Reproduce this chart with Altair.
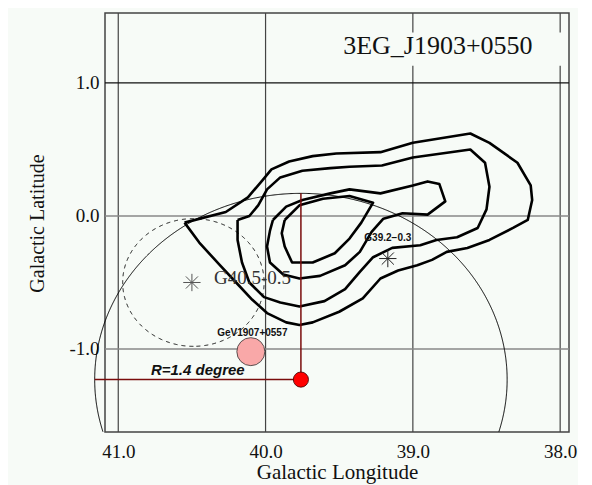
import altair as alt
import numpy as np
import pandas as pd

# ---------------- data ----------------
x_ticks = [41.0, 40.0, 39.0, 38.0]
y_ticks = [1.0, 0.0, -1.0]
x_domain = [37.94, 41.09]
y_domain = [-1.624, 1.526]

# EGRET significance contours (galactic lon, lat)
c1_lon = [40.55, 40.27, 40.12, 40.02, 39.96, 39.84, 39.68, 39.52, 39.22, 39.00, 38.61, 38.48,
          38.29, 38.20, 38.19, 38.22, 38.32, 38.48, 38.63, 38.77, 38.87, 38.97, 39.10, 39.22,
          39.34, 39.50, 39.68, 39.77, 39.86, 39.99, 40.09, 40.20, 40.31, 40.45, 40.55]
c1_lat = [-0.05, 0.03, 0.14, 0.27, 0.35, 0.41, 0.45, 0.47, 0.48, 0.55, 0.62, 0.55,
          0.40, 0.23, 0.12, -0.03, -0.09, -0.18, -0.24, -0.27, -0.33, -0.37, -0.41, -0.47,
          -0.62, -0.72, -0.80, -0.82, -0.80, -0.73, -0.63, -0.50, -0.37, -0.20, -0.05]

c2_lon = [40.19, 40.11, 40.05, 39.99, 39.90, 39.75, 39.56, 39.43, 39.21, 39.00, 38.61, 38.51,
          38.48, 38.50, 38.56, 38.70, 38.84, 38.95, 39.14, 39.27, 39.36, 39.46, 39.60, 39.77,
          39.90, 40.01, 40.11, 40.16, 40.19, 40.19]
c2_lat = [-0.03, 0.00, 0.08, 0.20, 0.29, 0.34, 0.36, 0.37, 0.38, 0.44, 0.50, 0.40,
          0.22, 0.05, -0.09, -0.16, -0.18, -0.22, -0.24, -0.31, -0.42, -0.55, -0.64, -0.68,
          -0.65, -0.61, -0.50, -0.35, -0.18, -0.03]

c3_lon = [39.95, 39.86, 39.75, 39.56, 39.43, 39.22, 39.00, 38.90, 38.82, 38.78, 38.90, 39.07,
          39.20, 39.28, 39.36, 39.46, 39.63, 39.77, 39.88, 39.97, 39.99, 39.97, 39.95]
c3_lat = [-0.03, 0.07, 0.12, 0.17, 0.20, 0.17, 0.23, 0.26, 0.24, 0.11, 0.01, 0.02,
          -0.02, -0.12, -0.27, -0.37, -0.45, -0.47, -0.44, -0.35, -0.23, -0.11, -0.03]

c4_lon = [39.87, 39.77, 39.61, 39.43, 39.27, 39.35, 39.43, 39.53, 39.68, 39.82, 39.87, 39.89, 39.87]
c4_lat = [-0.03, 0.08, 0.13, 0.15, 0.10, -0.05, -0.17, -0.28, -0.35, -0.35, -0.23, -0.13, -0.03]

# sources
star_names = ["G40.5-0.5", "G39.2\u22120.3"]
star_lon = [40.50, 39.17]
star_lat = [-0.50, -0.32]
star_label_lon = [40.35, 39.17]
star_label_lat = [-0.47, -0.165]

gev_name = "GeV1907+0557"
gev_lon = 40.10
gev_lat = -1.02
gev_label_lon = 40.09
gev_label_lat = -0.88

peak_lon = 39.76
peak_lat = -1.23
peak_radius = 1.4
radius_label = "R=1.4 degree"
radius_label_lon = 40.46
radius_label_lat = -1.16

snr_lon = 40.49
snr_lat = -0.50
snr_radius = 0.48

title_text = "3EG_J1903+0550"
title_lon = 38.83
title_lat = 1.28
title_box = {"lon": [39.63], "lon2": [37.95], "lat": [1.13], "lat2": [1.38]}

BG = "#f7fbf7"
SERIF = "Liberation Serif"
SANS = "Liberation Sans"

# ---------------- tables ----------------
contours = pd.concat([
    pd.DataFrame({"lon": lo, "lat": la, "c": k, "i": range(len(lo))})
    for k, (lo, la) in enumerate([(c1_lon, c1_lat), (c2_lon, c2_lat), (c3_lon, c3_lat), (c4_lon, c4_lat)])
])


def circle_df(lon0, lat0, r, n=1441):
    t = np.linspace(-np.pi / 2, 1.5 * np.pi, n)
    df = pd.DataFrame({"lon": lon0 + r * np.cos(t), "lat": lat0 + r * np.sin(t), "i": np.arange(n)})
    return df[df["lat"] >= y_domain[0]]


big_circle = circle_df(peak_lon, peak_lat, peak_radius)
snr_circle = circle_df(snr_lon, snr_lat, snr_radius)

xs = alt.Scale(domain=x_domain, reverse=True, nice=False, zero=False)
ys = alt.Scale(domain=y_domain, nice=False, zero=False)

xaxis = alt.Axis(values=x_ticks, format=".1f", title="Galactic Longitude", grid=False, ticks=False,
                 tickSize=0, domain=False, labelFont=SERIF, labelFontSize=19, labelColor="#111",
                 labelPadding=10, labelFlush=False, labelOverlap=False,
                 titleFont=SERIF, titleFontSize=21, titleFontWeight="normal", titleColor="#111",
                 titleX=232, titleY=40, titleAlign="center", titleBaseline="middle")
yaxis = alt.Axis(values=y_ticks, labelExpr="replace(format(datum.value, '.1f'), '\u2212', '-')",
                 title="Galactic Latitude", grid=False, ticks=False, tickSize=0, domain=False,
                 labelFont=SERIF, labelFontSize=19, labelColor="#111", labelPadding=6,
                 labelFlush=False, labelOverlap=False,
                 titleFont=SERIF, titleFontSize=20, titleFontWeight="normal", titleColor="#111",
                 titleAngle=270, titleX=-68, titleY=210, titleAlign="center", titleBaseline="middle")

X = alt.X("lon:Q", scale=xs, axis=xaxis)
Y = alt.Y("lat:Q", scale=ys, axis=yaxis)

vgrid = alt.Chart(pd.DataFrame({"lon": x_ticks})).mark_rule(color="#444", strokeWidth=1.2).encode(x=X)
hgrid = alt.Chart(pd.DataFrame({"lat": y_ticks})).mark_rule(strokeWidth=1.3).encode(
    y=Y, color=alt.condition("datum.lat == 1", alt.value("#111"), alt.value("#888")))

box = alt.Chart(pd.DataFrame(title_box)).mark_rect(fill=BG).encode(
    x=X, x2="lon2:Q", y=Y, y2="lat2:Q")
title = alt.Chart(pd.DataFrame({"lon": [title_lon], "lat": [title_lat], "t": [title_text]})).mark_text(
    font=SERIF, fontSize=26, color="#111").encode(x=X, y=Y, text="t:N")

cont = alt.Chart(contours).mark_line(color="black", strokeWidth=2.6, strokeJoin="round").encode(
    x=X, y=Y, detail="c:N", order="i:Q")

bigc = alt.Chart(big_circle).mark_line(color="black", strokeWidth=1).encode(x=X, y=Y, order="i:Q")
snrc = alt.Chart(snr_circle).mark_line(color="black", strokeWidth=1, strokeDash=[4, 4]).encode(
    x=X, y=Y, order="i:Q")

hrule = alt.Chart(pd.DataFrame({"lon": [peak_lon + peak_radius], "lon2": [peak_lon], "lat": [peak_lat]})).mark_rule(
    color="#7a0c0c", strokeWidth=1.5).encode(x=X, x2="lon2:Q", y=Y)
vrule = alt.Chart(pd.DataFrame({"lon": [peak_lon], "lat": [peak_lat], "lat2": [peak_lat + peak_radius]})).mark_rule(
    color="#7a0c0c", strokeWidth=1.5).encode(x=X, y=Y, y2="lat2:Q")

ASTER = "M-1,0L1,0M0,-1L0,1M-0.7,-0.7L0.7,0.7M-0.7,0.7L0.7,-0.7"
stars = alt.Chart(pd.DataFrame({"lon": star_lon, "lat": star_lat, "n": star_names})).mark_point(
    shape=ASTER, filled=False, strokeWidth=1, size=300, opacity=1).encode(
    x=X, y=Y, color=alt.Color("n:N", scale=alt.Scale(domain=star_names, range=["#555", "#222"]), legend=None))

lab1 = alt.Chart(pd.DataFrame({"lon": [star_label_lon[0]], "lat": [star_label_lat[0]], "t": [star_names[0]]})).mark_text(
    font=SERIF, fontSize=19, color="#333", align="left").encode(x=X, y=Y, text="t:N")
lab2 = alt.Chart(pd.DataFrame({"lon": [star_label_lon[1]], "lat": [star_label_lat[1]], "t": [star_names[1]]})).mark_text(
    font=SANS, fontSize=10, fontWeight="bold", color="#111").encode(x=X, y=Y, text="t:N")

gev = alt.Chart(pd.DataFrame({"lon": [gev_lon], "lat": [gev_lat]})).mark_point(
    shape="circle", filled=True, fill="#f9a8a8", stroke="#333", strokeWidth=0.8, size=784, opacity=1).encode(x=X, y=Y)
gevlab = alt.Chart(pd.DataFrame({"lon": [gev_label_lon], "lat": [gev_label_lat], "t": [gev_name]})).mark_text(
    font=SANS, fontSize=10, fontWeight="bold", color="#111").encode(x=X, y=Y, text="t:N")

peak = alt.Chart(pd.DataFrame({"lon": [peak_lon], "lat": [peak_lat]})).mark_point(
    shape="circle", filled=True, fill="#ff0000", stroke="#3a0000", strokeWidth=0.8, size=230, opacity=1).encode(x=X, y=Y)

rlab = alt.Chart(pd.DataFrame({"lon": [radius_label_lon], "lat": [radius_label_lat], "t": [radius_label]})).mark_text(
    font=SANS, fontSize=15, fontWeight="bold", fontStyle="italic", color="#111").encode(x=X, y=Y, text="t:N")

chart = alt.layer(
    vgrid, hgrid, box, title, cont, bigc, snrc, stars, lab1, lab2, hrule, vrule, gev, gevlab, peak, rlab
).properties(
    width=464, height=419,
    autosize=alt.AutoSizeParams(type="none"),
    padding={"left": 97, "top": 5, "right": 9, "bottom": 56},
    background=BG,
).configure_view(stroke="#444", strokeWidth=1.5, fill=BG)

chart.save("out.html", embed_options={"renderer": "svg", "actions": False})
